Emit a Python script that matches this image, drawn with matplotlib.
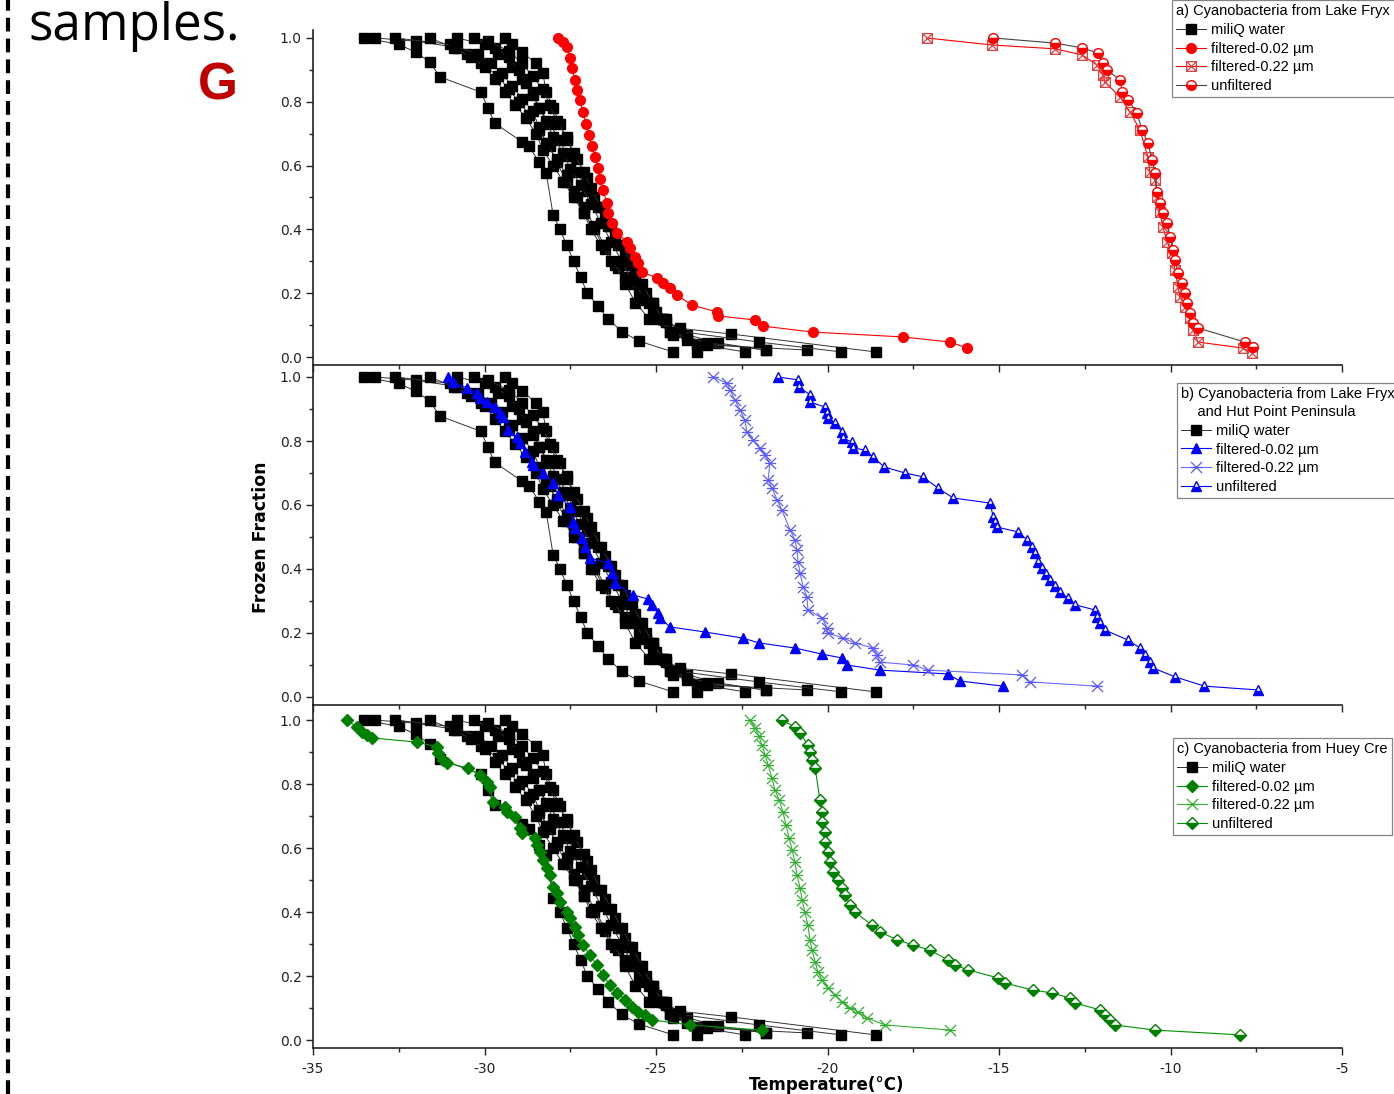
import matplotlib
matplotlib.use("Agg")
import matplotlib.pyplot as plt
from matplotlib.path import Path
from matplotlib.lines import Line2D
from matplotlib.ticker import MultipleLocator

plt.rcParams['font.family'] = ['DejaVu Sans']
plt.rcParams['axes.unicode_minus'] = False

# miliQ water runs (same in all three panels)
miliq_x = [
    [-33.5, -32.5, -32.0, -31.6, -31.3, -30.1, -29.9, -29.7, -28.9, -28.7, -28.4, -28.2, -28.0, -27.8, -27.6, -27.4, -27.2, -27.0, -26.7, -26.4, -26.0, -25.5, -24.5],
    [-33.2, -32.0, -30.8, -30.5, -30.1, -29.6, -29.3, -29.0, -28.7, -28.4, -28.1, -27.9, -27.6, -27.3, -27.1, -26.8, -26.5, -26.1, -25.7, -25.2, -24.8, -24.1, -23.2, -21.8],
    [-32.6, -31.0, -30.2, -29.8, -29.5, -29.2, -28.9, -28.6, -28.4, -28.2, -27.9, -27.6, -27.4, -27.1, -26.8, -26.5, -26.2, -25.9, -25.6, -25.2, -24.6, -23.5, -20.6],
    [-31.6, -30.9, -30.4, -30.0, -29.7, -29.4, -29.1, -28.8, -28.5, -28.3, -28.0, -27.7, -27.4, -27.1, -26.9, -26.6, -26.3, -25.9, -25.5, -25.1, -24.7, -24.3, -22.8, -18.6],
    [-30.8, -30.0, -29.6, -29.2, -28.9, -28.6, -28.4, -28.1, -27.8, -27.6, -27.3, -27.0, -26.7, -26.4, -26.1, -25.8, -25.5, -25.1, -24.7, -24.3, -22.0, -19.6],
    [-30.3, -29.7, -29.3, -29.0, -28.8, -28.6, -28.4, -28.2, -28.0, -27.7, -27.5, -27.2, -26.9, -26.6, -26.3, -26.0, -25.7, -25.3, -24.9, -24.5, -23.8, -22.4],
    [-29.4, -29.2, -28.9, -28.5, -28.3, -28.2, -28.0, -27.8, -27.6, -27.3, -27.0, -26.8, -26.5, -26.2, -25.9, -25.6, -25.3, -25.0, -24.6, -23.5, -21.8],
    [-29.9, -29.3, -28.9, -28.6, -28.3, -28.1, -27.9, -27.6, -27.4, -27.1, -26.9, -26.6, -26.3, -26.0, -25.7, -25.4, -25.1, -24.8, -24.5, -24.1, -23.8],
]
miliq_y = [
    [1.0, 0.98, 0.955, 0.925, 0.878, 0.83, 0.78, 0.733, 0.674, 0.66, 0.61, 0.577, 0.445, 0.40, 0.35, 0.30, 0.25, 0.20, 0.16, 0.12, 0.08, 0.05, 0.016],
    [1.0, 0.99, 0.97, 0.95, 0.92, 0.88, 0.84, 0.80, 0.76, 0.71, 0.66, 0.61, 0.55, 0.50, 0.45, 0.40, 0.34, 0.28, 0.23, 0.17, 0.12, 0.07, 0.044, 0.022],
    [1.0, 0.98, 0.95, 0.92, 0.89, 0.85, 0.81, 0.77, 0.72, 0.67, 0.62, 0.57, 0.52, 0.47, 0.41, 0.35, 0.29, 0.23, 0.17, 0.12, 0.08, 0.038, 0.022],
    [1.0, 0.97, 0.94, 0.91, 0.87, 0.83, 0.79, 0.75, 0.70, 0.65, 0.60, 0.55, 0.50, 0.45, 0.40, 0.35, 0.30, 0.25, 0.20, 0.15, 0.11, 0.09, 0.072, 0.016],
    [1.0, 0.98, 0.95, 0.91, 0.87, 0.83, 0.78, 0.73, 0.68, 0.63, 0.58, 0.52, 0.47, 0.41, 0.35, 0.29, 0.23, 0.17, 0.12, 0.08, 0.047, 0.016],
    [1.0, 0.97, 0.94, 0.90, 0.86, 0.82, 0.78, 0.74, 0.69, 0.64, 0.59, 0.54, 0.48, 0.42, 0.36, 0.30, 0.24, 0.18, 0.12, 0.07, 0.04, 0.016],
    [1.0, 0.98, 0.955, 0.92, 0.89, 0.83, 0.78, 0.73, 0.68, 0.62, 0.56, 0.50, 0.44, 0.38, 0.32, 0.26, 0.20, 0.14, 0.08, 0.044, 0.022],
    [0.99, 0.96, 0.92, 0.88, 0.84, 0.79, 0.74, 0.69, 0.64, 0.58, 0.53, 0.47, 0.41, 0.35, 0.29, 0.23, 0.17, 0.12, 0.08, 0.053, 0.016],
]

# a) Lake Fryxell
a_f002_x = [-27.86, -27.71, -27.59, -27.51, -27.45, -27.36, -27.30, -27.22, -27.13, -27.04, -26.95, -26.87, -26.78, -26.69, -26.63, -26.55, -26.43, -26.40, -26.28, -26.14, -25.85, -25.76, -25.61, -25.52, -25.41, -24.97, -24.80, -24.59, -24.39, -23.95, -23.22, -23.19, -22.11, -21.88, -20.42, -17.80, -16.43, -15.93]
a_f002_y = [1.0, 0.987, 0.972, 0.937, 0.906, 0.868, 0.837, 0.806, 0.768, 0.730, 0.696, 0.661, 0.627, 0.592, 0.558, 0.524, 0.483, 0.451, 0.420, 0.389, 0.361, 0.342, 0.313, 0.295, 0.266, 0.248, 0.232, 0.216, 0.194, 0.163, 0.141, 0.129, 0.116, 0.097, 0.078, 0.063, 0.047, 0.028]
a_f022_x = [-17.10, -15.20, -13.37, -12.58, -12.14, -11.97, -11.91, -11.47, -11.18, -10.89, -10.66, -10.60, -10.45, -10.39, -10.31, -10.22, -10.10, -9.96, -9.87, -9.78, -9.72, -9.58, -9.43, -9.34, -9.20, -7.89, -7.62]
a_f022_y = [1.0, 0.978, 0.966, 0.947, 0.915, 0.884, 0.862, 0.815, 0.768, 0.712, 0.627, 0.580, 0.555, 0.502, 0.455, 0.408, 0.361, 0.326, 0.273, 0.219, 0.188, 0.157, 0.122, 0.085, 0.047, 0.028, 0.013]
a_unf_x = [-15.17, -13.37, -12.58, -12.11, -11.97, -11.85, -11.47, -11.41, -11.24, -10.98, -10.83, -10.66, -10.54, -10.45, -10.39, -10.31, -10.22, -10.10, -10.01, -9.93, -9.87, -9.78, -9.66, -9.58, -9.52, -9.43, -9.34, -9.20, -7.83, -7.59]
a_unf_y = [1.0, 0.984, 0.969, 0.953, 0.922, 0.900, 0.868, 0.831, 0.806, 0.765, 0.712, 0.671, 0.618, 0.577, 0.517, 0.483, 0.451, 0.420, 0.376, 0.335, 0.304, 0.263, 0.232, 0.201, 0.169, 0.138, 0.107, 0.091, 0.047, 0.031]

# b) Lake Fryxell and Hut Point Peninsula
b_f002_x = [-31.06, -30.92, -30.51, -30.22, -30.13, -29.93, -29.69, -29.55, -29.46, -29.31, -29.05, -28.97, -28.82, -28.62, -28.59, -28.29, -28.00, -27.86, -27.51, -27.42, -27.36, -27.16, -27.07, -26.92, -26.40, -26.28, -26.20, -25.67, -25.23, -25.12, -24.94, -24.88, -24.59, -23.57, -22.46, -22.00, -20.95, -20.16, -19.58, -19.43, -18.47, -16.49, -16.14, -14.88]
b_f002_y = [1.0, 0.984, 0.966, 0.950, 0.934, 0.922, 0.906, 0.888, 0.875, 0.834, 0.813, 0.794, 0.766, 0.734, 0.725, 0.700, 0.669, 0.631, 0.594, 0.547, 0.528, 0.497, 0.469, 0.434, 0.419, 0.388, 0.356, 0.319, 0.306, 0.288, 0.263, 0.247, 0.219, 0.203, 0.184, 0.169, 0.153, 0.134, 0.122, 0.100, 0.084, 0.072, 0.050, 0.034]
b_f022_x = [-23.34, -22.93, -22.84, -22.70, -22.55, -22.41, -22.35, -22.17, -21.97, -21.82, -21.68, -21.73, -21.62, -21.47, -21.33, -21.09, -20.95, -20.89, -20.86, -20.80, -20.71, -20.60, -20.57, -20.16, -20.01, -19.99, -19.55, -19.20, -18.67, -18.56, -18.47, -17.51, -17.07, -14.33, -14.10, -12.14]
b_f022_y = [1.0, 0.981, 0.959, 0.928, 0.897, 0.866, 0.828, 0.803, 0.778, 0.756, 0.731, 0.678, 0.653, 0.616, 0.584, 0.522, 0.491, 0.459, 0.422, 0.388, 0.344, 0.313, 0.272, 0.247, 0.216, 0.200, 0.184, 0.169, 0.153, 0.131, 0.109, 0.100, 0.084, 0.069, 0.047, 0.034]
b_unf_x = [-21.44, -20.86, -20.83, -20.51, -20.51, -20.07, -20.01, -19.99, -19.78, -19.58, -19.55, -19.29, -19.26, -18.91, -18.67, -18.35, -17.74, -17.22, -16.78, -16.34, -15.26, -15.17, -15.12, -15.06, -14.45, -14.18, -14.04, -13.95, -13.86, -13.75, -13.63, -13.51, -13.37, -13.22, -12.99, -12.78, -12.20, -12.14, -12.06, -11.91, -11.24, -10.89, -10.74, -10.60, -10.51, -9.87, -9.01, -7.45]
b_unf_y = [1.0, 0.991, 0.969, 0.944, 0.922, 0.906, 0.888, 0.872, 0.856, 0.828, 0.809, 0.797, 0.778, 0.772, 0.750, 0.719, 0.700, 0.688, 0.653, 0.622, 0.606, 0.563, 0.547, 0.531, 0.516, 0.491, 0.469, 0.450, 0.422, 0.403, 0.384, 0.366, 0.347, 0.328, 0.309, 0.288, 0.272, 0.250, 0.231, 0.209, 0.178, 0.153, 0.131, 0.109, 0.091, 0.063, 0.034, 0.022]

# c) Huey Creek
c_f002_x = [-34.01, -33.72, -33.57, -33.43, -33.28, -31.97, -31.38, -31.36, -31.21, -31.09, -30.48, -30.13, -29.93, -29.84, -29.75, -29.40, -29.34, -29.11, -28.97, -28.91, -28.53, -28.47, -28.38, -28.29, -28.18, -28.09, -28.00, -27.89, -27.80, -27.59, -27.51, -27.36, -27.27, -27.13, -26.92, -26.72, -26.55, -26.34, -26.14, -25.90, -25.70, -25.52, -25.32, -25.12, -24.01, -21.91]
c_f002_y = [1.0, 0.978, 0.963, 0.953, 0.944, 0.931, 0.916, 0.897, 0.875, 0.866, 0.850, 0.828, 0.806, 0.791, 0.744, 0.728, 0.713, 0.697, 0.663, 0.647, 0.631, 0.609, 0.588, 0.563, 0.538, 0.516, 0.478, 0.459, 0.431, 0.400, 0.381, 0.353, 0.328, 0.297, 0.266, 0.234, 0.203, 0.172, 0.147, 0.125, 0.103, 0.088, 0.078, 0.063, 0.047, 0.031]
c_f022_x = [-22.26, -22.11, -22.00, -21.91, -21.82, -21.73, -21.62, -21.53, -21.41, -21.30, -21.21, -21.12, -21.03, -20.95, -20.89, -20.80, -20.74, -20.66, -20.57, -20.51, -20.45, -20.36, -20.28, -20.16, -19.99, -19.78, -19.58, -19.34, -19.11, -18.85, -18.32, -16.43]
c_f022_y = [1.0, 0.975, 0.950, 0.922, 0.891, 0.859, 0.819, 0.781, 0.750, 0.713, 0.672, 0.631, 0.594, 0.556, 0.516, 0.475, 0.438, 0.400, 0.359, 0.313, 0.281, 0.244, 0.213, 0.188, 0.163, 0.141, 0.119, 0.100, 0.088, 0.069, 0.047, 0.031]
c_unf_x = [-21.33, -20.95, -20.80, -20.57, -20.51, -20.45, -20.36, -20.22, -20.16, -20.16, -20.07, -20.07, -19.99, -19.93, -19.84, -19.69, -19.58, -19.49, -19.34, -19.20, -18.70, -18.47, -17.97, -17.51, -17.01, -16.49, -16.28, -15.90, -15.03, -14.83, -14.01, -13.45, -12.93, -12.78, -12.06, -11.91, -11.76, -11.62, -10.45, -7.97]
c_unf_y = [1.0, 0.978, 0.959, 0.922, 0.900, 0.875, 0.850, 0.750, 0.713, 0.681, 0.650, 0.619, 0.588, 0.556, 0.525, 0.500, 0.475, 0.453, 0.422, 0.400, 0.359, 0.338, 0.313, 0.297, 0.281, 0.250, 0.234, 0.219, 0.194, 0.178, 0.156, 0.147, 0.131, 0.116, 0.094, 0.078, 0.063, 0.047, 0.031, 0.016]

labels = ['miliQ water', 'filtered-0.02 \u00b5m', 'filtered-0.22 \u00b5m', 'unfiltered']
# legend titles as far as they show before the page edge
titles = ['a) Cyanobacteria from Lake Fryx',
          'b) Cyanobacteria from Lake Fryx\n    and Hut Point Peninsula',
          'c) Cyanobacteria from Huey Cre']

# custom Origin-like symbols
crossed_square = Path([(-1, -1), (1, -1), (1, 1), (-1, 1), (-1, -1), (-1, -1), (1, 1), (-1, 1), (1, -1)],
                      [Path.MOVETO, Path.LINETO, Path.LINETO, Path.LINETO, Path.CLOSEPOLY,
                       Path.MOVETO, Path.LINETO, Path.MOVETO, Path.LINETO])
barred_x = Path([(-1, -1), (1, 1), (-1, 1), (1, -1), (-1, 0), (1, 0)],
                [Path.MOVETO, Path.LINETO, Path.MOVETO, Path.LINETO, Path.MOVETO, Path.LINETO])

W_PX, H_PX = 1394, 1094
fig = plt.figure(figsize=(W_PX / 100, H_PX / 100), dpi=100)

L = 313 / W_PX
W = (1342 - 313) / W_PX
ax_a = fig.add_axes([L, 1 - 365 / H_PX, W, 335 / H_PX])
ax_b = fig.add_axes([L, 1 - 705 / H_PX, W, 340 / H_PX])
ax_c = fig.add_axes([L, 1 - 1048 / H_PX, W, 343 / H_PX])
ax_a.set_ylim(-0.025, 1.025)
ax_b.set_ylim(-0.025, 1.0375)
ax_c.set_ylim(-0.025, 1.047)

for ax in (ax_a, ax_b, ax_c):
    ax.set_xlim(-35, -5)
    ax.patch.set_alpha(0)
    ax.spines['top'].set_visible(False)
    ax.spines['right'].set_visible(False)
    for s in ('left', 'bottom'):
        ax.spines[s].set_linewidth(1.2)
        ax.spines[s].set_color('#222222')
    ax.xaxis.set_major_locator(MultipleLocator(5))
    ax.xaxis.set_minor_locator(MultipleLocator(2.5))
    ax.yaxis.set_major_locator(MultipleLocator(0.2))
    ax.yaxis.set_minor_locator(MultipleLocator(0.1))
    ax.tick_params(which='major', direction='out', length=5, width=1, labelsize=10, colors='#222222', pad=3)
    ax.tick_params(axis='x', pad=5)
    ax.tick_params(which='minor', direction='out', length=3, width=1, colors='#222222')
    # miliQ water
    for i in range(len(miliq_x)):
        ax.plot(miliq_x[i], miliq_y[i], color='#333333', lw=0.7, marker='s', ms=6.5,
                mfc='black', mec='black', label=labels[0] if i == 0 else None, zorder=2)

ax_a.tick_params(labelbottom=False)
ax_b.tick_params(labelbottom=False)

# panel a (red)
ax_a.plot(a_f002_x, a_f002_y, color='red', lw=0.8, marker='o', ms=7, mfc='red', mec='red', label=labels[1], zorder=3)
ax_a.plot(a_f022_x, a_f022_y, color='red', lw=0.8, marker=crossed_square, ms=7, mfc='none', mec='#e04040', mew=0.9, label=labels[2], zorder=3)
ax_a.plot(a_unf_x, a_unf_y, color='#444444', lw=0.8, marker='o', ms=7, fillstyle='bottom', mfc='red', mfcalt='white', mec='red', label=labels[3], zorder=4)

# panel b (blue)
ax_b.plot(b_f002_x, b_f002_y, color='blue', lw=0.8, marker='^', ms=7, mfc='blue', mec='blue', label=labels[1], zorder=3)
ax_b.plot(b_f022_x, b_f022_y, color='#6b6bff', lw=0.8, marker=barred_x, ms=8, mfc='none', mec='#5a5aff', mew=0.9, label=labels[2], zorder=3)
ax_b.plot(b_unf_x, b_unf_y, color='blue', lw=0.8, marker='^', ms=7, fillstyle='bottom', mfc='blue', mfcalt='white', mec='blue', label=labels[3], zorder=3)

# panel c (green)
ax_c.plot(c_f002_x, c_f002_y, color='#009000', lw=0.8, marker='D', ms=6.5, mfc='#008000', mec='#008000', label=labels[1], zorder=3)
ax_c.plot(c_f022_x, c_f022_y, color='#33b033', lw=0.8, marker=barred_x, ms=8, mfc='none', mec='#33b033', mew=0.9, label=labels[2], zorder=3)
ax_c.plot(c_unf_x, c_unf_y, color='#009000', lw=0.8, marker='D', ms=6.5, fillstyle='bottom', mfc='#008000', mfcalt='white', mec='#008000', label=labels[3], zorder=3)

# legends
leg_pos = [(1172, 0), (1177, 383), (1173, 738)]
for ax, title, (lx, ly) in zip((ax_a, ax_b, ax_c), titles, leg_pos):
    leg = ax.legend(title=title, loc='upper left', bbox_to_anchor=(lx / W_PX, 1 - ly / H_PX),
                    bbox_transform=fig.transFigure, alignment='left', frameon=True, fancybox=False,
                    edgecolor='#666666', handlelength=2.0, handletextpad=0.4, borderpad=0.3,
                    labelspacing=0.32, borderaxespad=0,
                    prop={'family': 'Liberation Sans', 'size': 10.5})
    leg.get_title().set_fontfamily('Liberation Sans')
    leg.get_title().set_fontsize(10.5)
    leg.get_title().set_linespacing(1.35)
    leg.get_frame().set_linewidth(0.9)
    leg.set_zorder(10)

fig.text(261 / W_PX, 1 - 537 / H_PX, 'Frozen Fraction', rotation=90, ha='center', va='center',
         fontsize=12.5, fontweight='bold')
fig.text(827 / W_PX, 1 - 1076 / H_PX, 'Temperature(\u00b0C)', ha='center', va='top',
         fontsize=12, fontweight='bold')

# pieces of the surrounding page
fig.text(28 / W_PX, 1 - 40 / H_PX, 'samples.', fontsize=37, family='Open Sans', va='baseline')
fig.text(218 / W_PX, 1 - 86 / H_PX, 'G', color='#C00000', fontweight='bold', fontsize=37,
         family='Liberation Sans', ha='center', va='center')
fig.add_artist(Line2D([8 / W_PX, 8 / W_PX], [0, 1], transform=fig.transFigure, color='black',
                      lw=3, ls=(0, (3.3, 1.7))))

fig.savefig('out.png', dpi=100)
